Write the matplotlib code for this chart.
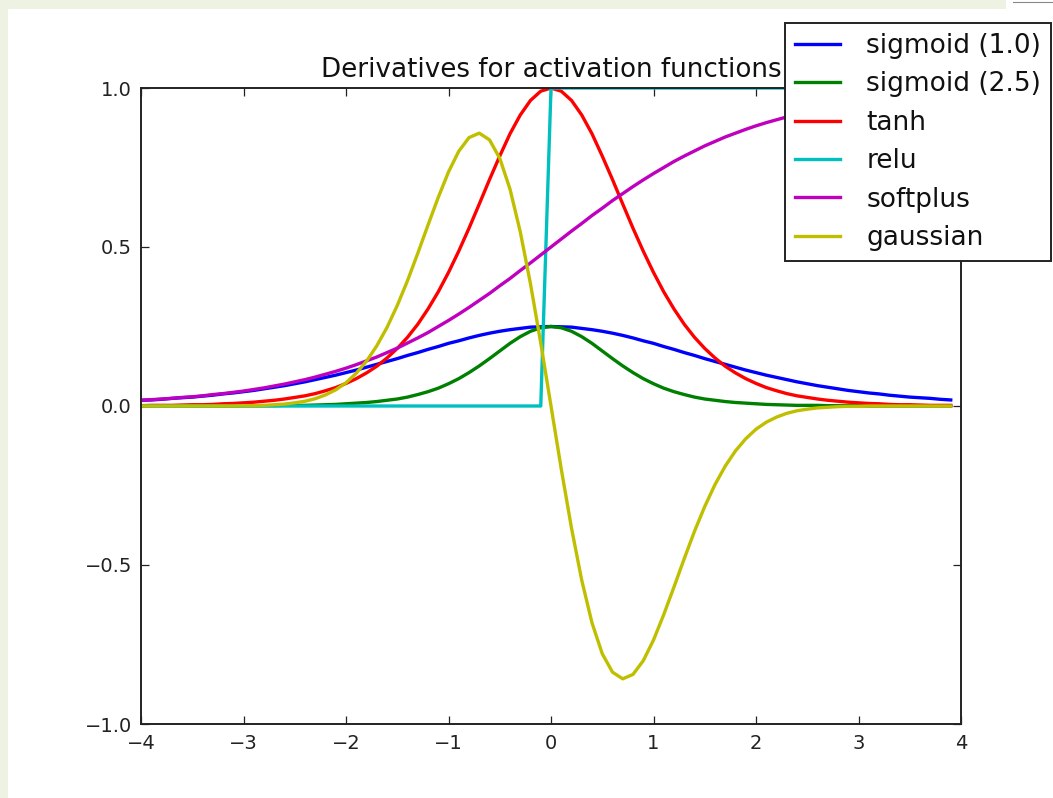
#!/usr/bin/env python

import matplotlib
matplotlib.use('Agg')
import numpy as np
import matplotlib.pyplot as plt
from matplotlib.patches import Rectangle
from matplotlib.lines import Line2D

# Sample points, step 0.1 from -4.0 to 3.9
x = np.linspace(-4.0, 3.9, 80)

sigmoid_1 = [
    0.018, 0.019, 0.021, 0.024, 0.026, 0.028, 0.031, 0.034, 0.038, 0.041,
    0.045, 0.049, 0.054, 0.059, 0.064, 0.070, 0.076, 0.083, 0.090, 0.097,
    0.105, 0.113, 0.122, 0.131, 0.140, 0.149, 0.159, 0.168, 0.178, 0.187,
    0.197, 0.205, 0.214, 0.222, 0.229, 0.235, 0.240, 0.244, 0.248, 0.249,
    0.250, 0.249, 0.248, 0.244, 0.240, 0.235, 0.229, 0.222, 0.214, 0.205,
    0.197, 0.187, 0.178, 0.168, 0.159, 0.149, 0.140, 0.131, 0.122, 0.113,
    0.105, 0.097, 0.090, 0.083, 0.076, 0.070, 0.064, 0.059, 0.054, 0.049,
    0.045, 0.041, 0.038, 0.034, 0.031, 0.028, 0.026, 0.024, 0.021, 0.019]

sigmoid_25 = [
    0.000, 0.000, 0.000, 0.000, 0.000, 0.000, 0.000, 0.000, 0.000, 0.000,
    0.001, 0.001, 0.001, 0.001, 0.002, 0.002, 0.002, 0.003, 0.004, 0.005,
    0.007, 0.009, 0.011, 0.014, 0.018, 0.022, 0.028, 0.036, 0.045, 0.056,
    0.070, 0.086, 0.105, 0.126, 0.149, 0.173, 0.197, 0.218, 0.235, 0.246,
    0.250, 0.246, 0.235, 0.218, 0.197, 0.173, 0.149, 0.126, 0.105, 0.086,
    0.070, 0.056, 0.045, 0.036, 0.028, 0.022, 0.018, 0.014, 0.011, 0.009,
    0.007, 0.005, 0.004, 0.003, 0.002, 0.002, 0.002, 0.001, 0.001, 0.001,
    0.001, 0.000, 0.000, 0.000, 0.000, 0.000, 0.000, 0.000, 0.000, 0.000]

tanh = [
    0.001, 0.002, 0.002, 0.002, 0.003, 0.004, 0.004, 0.005, 0.007, 0.008,
    0.010, 0.012, 0.015, 0.018, 0.022, 0.027, 0.032, 0.039, 0.048, 0.058,
    0.071, 0.086, 0.104, 0.125, 0.151, 0.181, 0.216, 0.257, 0.305, 0.359,
    0.420, 0.487, 0.559, 0.635, 0.712, 0.786, 0.856, 0.915, 0.961, 0.990,
    1.000, 0.990, 0.961, 0.915, 0.856, 0.786, 0.712, 0.635, 0.559, 0.487,
    0.420, 0.359, 0.305, 0.257, 0.216, 0.181, 0.151, 0.125, 0.104, 0.086,
    0.071, 0.058, 0.048, 0.039, 0.032, 0.027, 0.022, 0.018, 0.015, 0.012,
    0.010, 0.008, 0.007, 0.005, 0.004, 0.004, 0.003, 0.002, 0.002, 0.002]

relu = [0.0] * 40 + [1.0] * 40

softplus = [
    0.018, 0.020, 0.022, 0.024, 0.027, 0.029, 0.032, 0.036, 0.039, 0.043,
    0.047, 0.052, 0.057, 0.063, 0.069, 0.076, 0.083, 0.091, 0.100, 0.109,
    0.119, 0.130, 0.142, 0.154, 0.168, 0.182, 0.198, 0.214, 0.231, 0.250,
    0.269, 0.289, 0.310, 0.332, 0.354, 0.378, 0.401, 0.426, 0.450, 0.475,
    0.500, 0.525, 0.550, 0.574, 0.599, 0.622, 0.646, 0.668, 0.690, 0.711,
    0.731, 0.750, 0.769, 0.786, 0.802, 0.818, 0.832, 0.846, 0.858, 0.870,
    0.881, 0.891, 0.900, 0.909, 0.917, 0.924, 0.931, 0.937, 0.943, 0.948,
    0.953, 0.957, 0.961, 0.964, 0.968, 0.971, 0.973, 0.976, 0.978, 0.980]

gaussian = [
    0.000, 0.000, 0.000, 0.000, 0.000, 0.000, 0.000, 0.000, 0.000, 0.000,
    0.001, 0.001, 0.002, 0.004, 0.006, 0.010, 0.015, 0.023, 0.035, 0.051,
    0.073, 0.103, 0.141, 0.189, 0.247, 0.316, 0.394, 0.480, 0.569, 0.656,
    0.736, 0.801, 0.844, 0.858, 0.837, 0.779, 0.682, 0.548, 0.384, 0.198,
    0.000, -0.198, -0.384, -0.548, -0.682, -0.779, -0.837, -0.858, -0.844, -0.801,
    -0.736, -0.656, -0.569, -0.480, -0.394, -0.316, -0.247, -0.189, -0.141, -0.103,
    -0.073, -0.051, -0.035, -0.023, -0.015, -0.010, -0.006, -0.004, -0.002, -0.001,
    -0.001, 0.000, 0.000, 0.000, 0.000, 0.000, 0.000, 0.000, 0.000, 0.000]

labels = ['sigmoid (1.0)', 'sigmoid (2.5)', 'tanh', 'relu', 'softplus', 'gaussian']
series = [sigmoid_1, sigmoid_25, tanh, relu, softplus, gaussian]
colors = ['#0000ff', '#008000', '#ff0000', '#00bfbf', '#bf00bf', '#bfbf00']

plt.rcParams['font.family'] = ['DejaVu Sans']
plt.rcParams['axes.unicode_minus'] = True

W, H = 1053, 798
fig = plt.figure(figsize=(W / 100.0, H / 100.0), dpi=100, facecolor='#eef2e2')

# white page area, with a small white tab at the top right
fig.patches.append(Rectangle((8.0 / W, 0), 1 - 8.0 / W, 1 - 9.0 / H,
                             transform=fig.transFigure, facecolor='white',
                             edgecolor='none', zorder=-2))
fig.patches.append(Rectangle((1006.0 / W, 1 - 9.0 / H), 1, 9.0 / H,
                             transform=fig.transFigure, facecolor='white',
                             edgecolor='none', zorder=-2))
fig.lines.append(Line2D([1013.0 / W, 1.0], [1 - 1.5 / H, 1 - 1.5 / H],
                        transform=fig.transFigure, color='#888888', lw=0.8))

ax = fig.add_axes([141.0 / W, 1 - 724.0 / H, 820.0 / W, 636.0 / H])

for y, lab, c in zip(series, labels, colors):
    ax.plot(x, y, color=c, linewidth=2.4, label=lab)

ax.set_xlim(-4, 4)
ax.set_ylim(-1, 1)
ax.set_xticks([-4, -3, -2, -1, 0, 1, 2, 3, 4])
ax.set_yticks([-1.0, -0.5, 0.0, 0.5, 1.0])
ax.set_yticklabels(['\u22121.0', '\u22120.5', '0.0', '0.5', '1.0'])
ax.tick_params(direction='in', top=True, right=True, length=5.8, width=0.9,
               labelsize=14, colors='#222222')
ax.tick_params(axis='x', pad=7.5)
ax.tick_params(axis='y', pad=6.5)
for s in ax.spines.values():
    s.set_linewidth(1.4)
    s.set_color('#222222')

ax.set_title('Derivatives for activation functions', fontsize=18.8, pad=8,
             color='#111111')

leg = ax.legend(loc='upper left', bbox_to_anchor=(785.0 / W, 1 - 23.0 / H),
                bbox_transform=fig.transFigure, borderaxespad=0,
                fontsize=19, handlelength=1.7, handletextpad=1.0,
                borderpad=0.38, labelspacing=0.47, fancybox=False,
                framealpha=1.0, edgecolor='#222222')
leg.get_frame().set_linewidth(1.4)
for t in leg.get_texts():
    t.set_color('#111111')

plt.savefig('out.png', dpi=100, facecolor=fig.get_facecolor())
